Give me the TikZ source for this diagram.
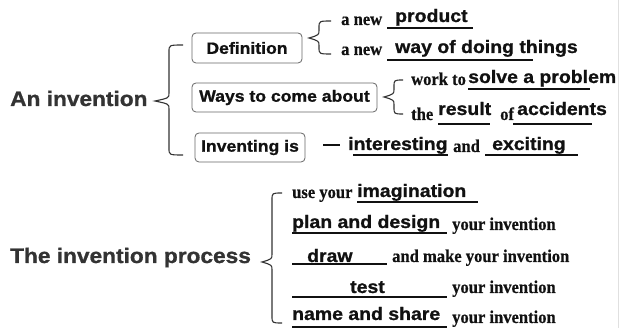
\documentclass[tikz,border=0pt]{standalone}
\usepackage{fontspec}
\setmainfont{Liberation Serif}[FakeStretch=0.92, FakeBold=0.5]
\newfontfamily\blk{Liberation Sans}[FakeStretch=1.08, FakeBold=1]
\definecolor{ink}{HTML}{111111}
\definecolor{ttlc}{HTML}{333333}
\definecolor{brc}{HTML}{333333}
\definecolor{boxc}{HTML}{666666}
\newcommand{\cbrace}[7]{% name, xe, xv, xt, yt, ytip, yb
  \coordinate (#1t) at (#2,#5);
  \coordinate (#1p) at (#4,#6);
  \coordinate (#1b) at (#2,#7);
  \draw[bracestyle] (#1t) .. controls (#3,#5) .. (#3,{#5+7}) -- (#3,{#6-8})
    .. controls (#3,{#6-3}) .. (#1p) .. controls (#3,{#6+3}) .. (#3,{#6+8})
    -- (#3,{#7-7}) .. controls (#3,#7) .. (#1b);
}
\begin{document}
\begin{tikzpicture}[x=1pt,y=-1pt,
  bracestyle/.style={draw=brc, line width=1.1pt},
  ser/.style={font=\fontsize{18}{20}\selectfont\bfseries, anchor=base west, inner sep=0pt, text=ink},
  ans/.style={font=\blk\bfseries\fontsize{18}{20}\selectfont, anchor=base west, inner sep=0pt, text=ink},
  ttl/.style={font=\blk\bfseries\fontsize{21}{24}\selectfont, anchor=base west, inner sep=0pt, text=ttlc},
  boxlbl/.style={font=\blk\bfseries\fontsize{16.3}{18}\selectfont, draw=boxc, line width=0.8pt, rounded corners=4pt, inner sep=0pt, text=ink},
  uline/.style={draw=ink, line width=1.1pt}]
\path[use as bounding box, fill=white] (0,0) rectangle (619,328);
\draw[black!12, line width=1pt] (618,0) -- (618,328);

% titles
\node[ttl] (inv) at (10,106) {An invention};
\node[ttl] (proc) at (10,263) {The invention process};

% boxes
\node[boxlbl, minimum width=110pt, minimum height=30pt] (def) at (247,48) {Definition};
\node[boxlbl, minimum width=185pt, minimum height=29pt] (ways) at (284.5,97.5) {Ways to come about};
\node[boxlbl, minimum width=110pt, minimum height=29pt] (ising) at (250,147.5) {Inventing is};

% braces
\cbrace{b1}{183}{169}{155}{45}{101}{155}
\cbrace{b2}{331}{319}{309}{21}{38}{54}
\cbrace{b3}{403}{394}{384}{80}{97}{114}
\cbrace{b4}{282}{272}{262}{193}{262}{323}

% Definition branch
\node[ser] (an1) at (341,25) {a new};
\node[ans] (prod) at (395,22) {product};
\draw[uline] (387,28) -- (473,28);
\node[ser] (an2) at (341,55) {a new};
\node[ans] (way) at (395,53) {way of doing things};
\draw[uline] (387,60) -- (533,60);

% Ways branch
\node[ser] (wt) at (411,85) {work to};
\node[ans] (solve) at (468,83) {solve a problem};
\draw[uline] (468,89) -- (590,89);
\node[ser] (the) at (411,120) {the};
\node[ans] (res) at (438,115) {result};
\draw[uline] (438,124) -- (490,124);
\node[ser] (of) at (500,120) {of};
\node[ans] (acc) at (517,115) {accidents};
\draw[uline] (513,124) -- (592,124);

% Inventing is branch
\coordinate (dA) at (323,145);
\coordinate (dB) at (340,145);
\draw[draw=ink, line width=1.1pt] (dA) -- (dB);
\node[ans] (intr) at (348,150) {interesting};
\draw[uline] (353,155) -- (448,155);
\node[ser] (and) at (453,152) {and};
\node[ans] (exc) at (492,150) {exciting};
\draw[uline] (485,155) -- (578,155);

% process
\node[ser] (uy) at (292,198) {use your};
\node[ans] (imag) at (357,197) {imagination};
\draw[uline] (357,202) -- (478,202);

\node[ans] (plan) at (292,228) {plan and design};
\draw[uline] (292,233) -- (447,233);
\node[ser] (yi1) at (452,230) {your invention};

\node[ans] (draw) at (307,262) {draw};
\draw[uline] (292,264) -- (387,264);
\node[ser] (amk) at (392,262) {and make your invention};

\node[ans] (test) at (350,293) {test};
\draw[uline] (292,297) -- (447,297);
\node[ser] (yi2) at (452,293) {your invention};

\node[ans] (name) at (292,320) {name and share};
\draw[uline] (292,327) -- (447,327);
\node[ser] (yi3) at (452,323) {your invention};
\end{tikzpicture}
\end{document}
